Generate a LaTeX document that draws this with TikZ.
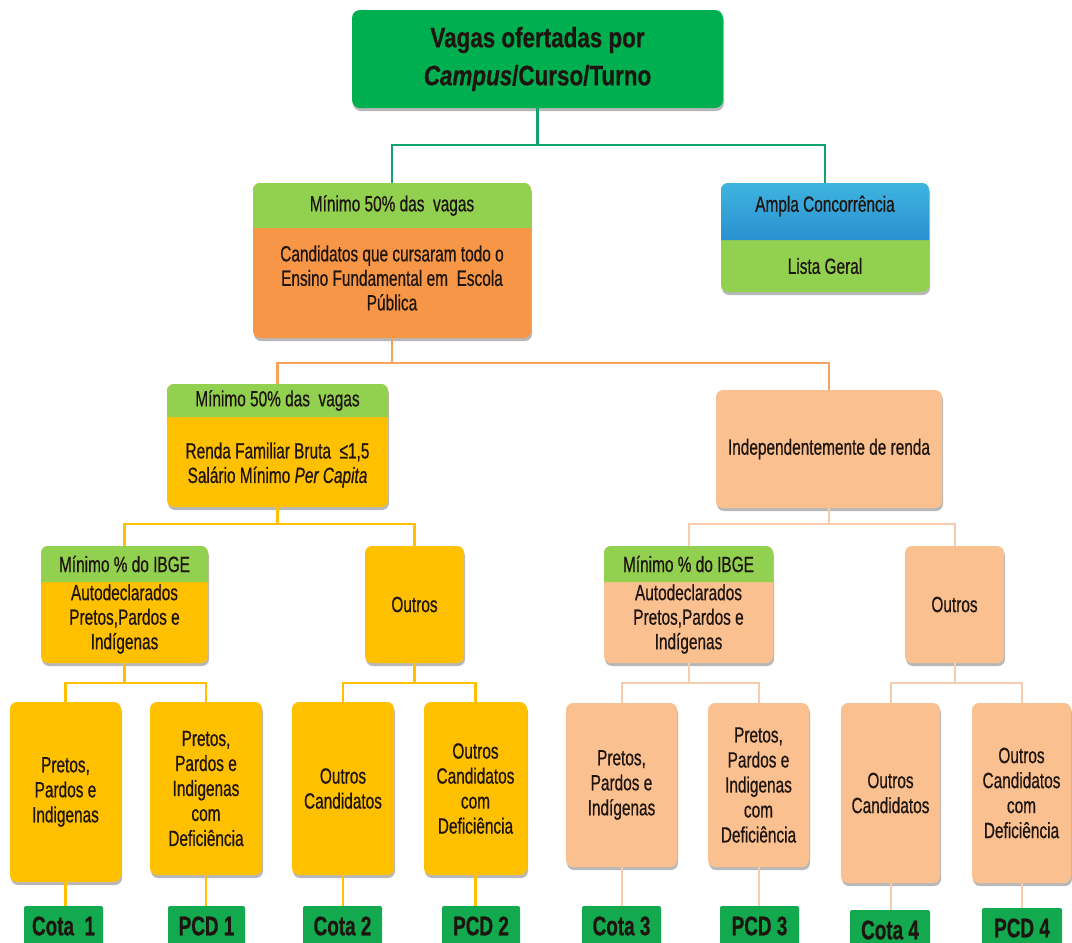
\documentclass[tikz,border=0pt]{standalone}
\usepackage{fontspec}
\setmainfont[FakeStretch=0.7,FakeBold=0.6]{Liberation Sans}
\newfontfamily\titlefont[FakeStretch=0.8,FakeBold=0.6]{Liberation Sans}
\usetikzlibrary{shadows}
\definecolor{topg}{HTML}{00B050}
\definecolor{hdrg}{HTML}{92D050}
\definecolor{orng}{HTML}{F79646}
\definecolor{goldc}{HTML}{FFC000}
\definecolor{peach}{HTML}{FAC090}
\definecolor{gline}{HTML}{10A46C}
\definecolor{oline}{HTML}{F6A35E}
\definecolor{pline}{HTML}{F8CBAD}
\definecolor{txt}{HTML}{1E1410}
\definecolor{blueT}{HTML}{3EB4E0}
\definecolor{blueB}{HTML}{2A90CF}
\definecolor{lblg}{HTML}{13A94E}
\newcommand\mybox[7]{\node[#1, minimum width={(#4-#2)*1pt}, minimum height={(#5-#3)*1pt}] (#6) at ({(#2+#4)/2},{(#3+#5)/2}) {#7};}
\newcommand\hdrfill[5]{\path[#1] (#2,{(#3+#5)/2}) [rounded corners=7pt] -- (#2,#3) -- (#4,#3) -- (#4,{(#3+#5)/2}) [sharp corners] -- (#4,#5) -- (#2,#5) -- cycle;}
\tikzset{
  base/.style={rectangle, rounded corners=7pt, inner sep=0pt, align=center, text=txt, font=\fontsize{22}{25}\selectfont},
  shad/.style={drop shadow={shadow xshift=1pt, shadow yshift=-3pt, opacity=0.28, fill=black}},
  topbox/.style={base, shad, fill=topg, rounded corners=8pt, font=\titlefont\bfseries\fontsize{28}{38}\selectfont},
  orngbox/.style={base, shad, fill=orng},
  goldbox/.style={base, shad, fill=goldc},
  peachbox/.style={base, shad, fill=peach},
  lgbox/.style={base, shad, fill=hdrg},
  lblbox/.style={base, fill=lblg, rounded corners=2pt, font=\bfseries\fontsize{27}{30}\selectfont},
  plain/.style={inner sep=0pt, align=center, text=txt, font=\fontsize{22}{24.5}\selectfont},
  gl/.style={draw=gline, line width=2.6pt},
  ol/.style={draw=oline, line width=2.6pt},
  yl/.style={draw=goldc, line width=2.6pt},
  pl/.style={draw=pline, line width=2pt},
}
\begin{document}
\begin{tikzpicture}[x=1pt,y=-1pt]
\useasboundingbox (0,0) rectangle (1072,943);
% level 1
\mybox{topbox}{352}{10}{723}{108}{top}{Vagas ofertadas por\\\textit{Campus}/Curso/Turno}
% level 2
\mybox{orngbox}{253}{183}{531}{338}{ep}{}
\hdrfill{fill=hdrg}{253}{183}{531}{228}
\node[plain] (eph) at (392,205.5) {Mínimo 50\% das\ \ vagas};
\node[plain] (ept) at (392,278) {Candidatos que cursaram todo o\\Ensino Fundamental em\ \ Escola\\Pública};
\mybox{lgbox}{721}{183}{929}{292}{ac}{}
\hdrfill{top color=blueT,bottom color=blueB}{721}{183}{929}{240}
\node[plain] (ach) at (825,206) {Ampla Concorrência};
\node[plain] (act) at (825,266) {Lista Geral};
% level 3
\mybox{goldbox}{167}{384}{388}{507}{rf}{}
\hdrfill{fill=hdrg}{167}{384}{388}{417}
\node[plain] (rfh) at (277.5,400.5) {Mínimo 50\% das\ \ vagas};
\node[plain] (rft) at (277.5,465) {Renda Familiar Bruta\ \ ≤1,5\\Salário Mínimo \textit{Per Capita}};
\mybox{peachbox}{716}{390}{942}{508}{ind}{Independentemente de renda}
% level 4
\mybox{goldbox}{41}{546}{208}{663}{ib1}{}
\hdrfill{fill=hdrg}{41}{546}{208}{582}
\node[plain] (ib1h) at (124.5,564) {Mínimo \% do IBGE};
\node[plain] (ib1t) at (124.5,619) {Autodeclarados\\Pretos,Pardos e\\Indígenas};
\mybox{goldbox}{365}{546}{464}{663}{ou1}{Outros}
\mybox{peachbox}{604}{546}{773}{663}{ib2}{}
\hdrfill{fill=hdrg}{604}{546}{773}{582}
\node[plain] (ib2h) at (688.5,564) {Mínimo \% do IBGE};
\node[plain] (ib2t) at (688.5,619) {Autodeclarados\\Pretos,Pardos e\\Indígenas};
\mybox{peachbox}{905}{546}{1004}{663}{ou2}{Outros}
% leaves
\mybox{goldbox}{10}{702}{121}{882}{l1}{Pretos,\\Pardos e\\Indigenas}
\mybox{goldbox}{150}{702}{262}{875}{l2}{Pretos,\\Pardos e\\Indigenas\\com\\Deficiência}
\mybox{goldbox}{292}{702}{394}{875}{l3}{Outros\\Candidatos}
\mybox{goldbox}{424}{702}{527}{875}{l4}{Outros\\Candidatos\\com\\Deficiência}
\mybox{peachbox}{566}{703}{677}{867}{l5}{Pretos,\\Pardos e\\Indígenas}
\mybox{peachbox}{708}{703}{809}{867}{l6}{Pretos,\\Pardos e\\Indigenas\\com\\Deficiência}
\mybox{peachbox}{841}{703}{940}{883}{l7}{Outros\\Candidatos}
\mybox{peachbox}{972}{703}{1071}{883}{l8}{Outros\\Candidatos\\com\\Deficiência}
% labels
\mybox{lblbox}{24}{906}{103}{946}{c1}{Cota\ \ 1}
\mybox{lblbox}{168}{906}{245}{946}{p1}{PCD 1}
\mybox{lblbox}{303}{906}{382}{946}{c2}{Cota 2}
\mybox{lblbox}{442}{906}{520}{946}{p2}{PCD 2}
\mybox{lblbox}{582}{906}{661}{946}{c3}{Cota 3}
\mybox{lblbox}{720}{906}{799}{946}{p3}{PCD 3}
\mybox{lblbox}{850}{910}{930}{950}{c4}{Cota 4}
\mybox{lblbox}{982}{908}{1062}{948}{p4}{PCD 4}
% junctions
\coordinate (j1) at (537.5,145);
\coordinate (j2) at (392,363);
\coordinate (j3) at (277.5,524);
\coordinate (j4) at (829,524);
\coordinate (j5) at (124.5,683);
\coordinate (j6) at (414.5,683);
\coordinate (j7) at (688.5,683);
\coordinate (j8) at (954.5,683);
% connectors
\draw[gl] (top.south) -- (j1);
\draw[gl] (ep.north) |- (j1) -| (ac.north);
\draw[ol] (ep.south) -- (j2);
\draw[ol] (rf.north) |- (j2) -| (ind.north);
\draw[yl] (rf.south) -- (j3);
\draw[yl] (ib1.north) |- (j3) -| (ou1.north);
\draw[pl] (ind.south) -- (j4);
\draw[pl] (ib2.north) |- (j4) -| (ou2.north);
\draw[yl] (ib1.south) -- (j5);
\draw[yl] (l1.north) |- (j5) -| (l2.north);
\draw[yl] (ou1.south) -- (j6);
\draw[yl] (l3.north) |- (j6) -| (l4.north);
\draw[pl] (ib2.south) -- (j7);
\draw[pl] (l5.north) |- (j7) -| (l6.north);
\draw[pl] (ou2.south) -- (j8);
\draw[pl] (l7.north) |- (j8) -| (l8.north);
\draw[yl] (l1.south) -- (l1.south |- c1.north);
\draw[yl] (l2.south) -- (l2.south |- p1.north);
\draw[yl] (l3.south) -- (l3.south |- c2.north);
\draw[yl] (l4.south) -- (l4.south |- p2.north);
\draw[pl] (l5.south) -- (l5.south |- c3.north);
\draw[pl] (l6.south) -- (l6.south |- p3.north);
\draw[pl] (l7.south) -- (l7.south |- c4.north);
\draw[pl] (l8.south) -- (l8.south |- p4.north);
\end{tikzpicture}
\end{document}
